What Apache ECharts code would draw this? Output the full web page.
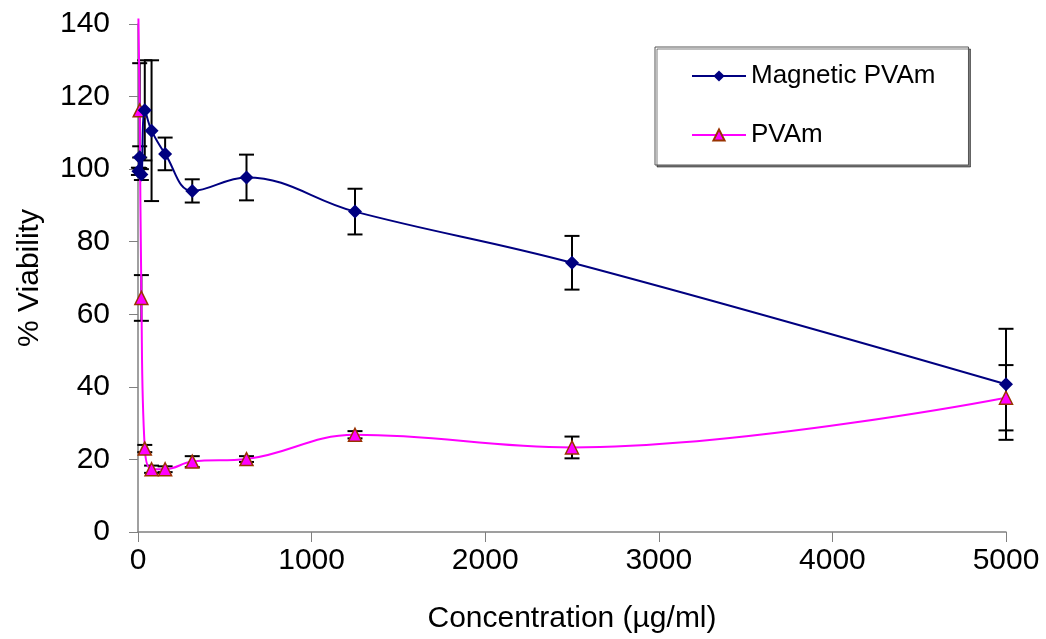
<!DOCTYPE html>
<html>
<head>
<meta charset="utf-8">
<script src="https://cdn.jsdelivr.net/npm/echarts@6/dist/echarts.min.js"></script>
<style>
  html, body { margin: 0; padding: 0; background: #fff; }
  #chartdiv { width: 1046px; height: 639px; }
</style>
</head>
<body>
<div id="chartdiv"></div>
<script>
// concentrations (µg/ml)
const concentrations = [2.44, 9.77, 19.53, 39.06, 78.13, 156.25, 312.5, 625, 1250, 2500, 5000];

const magneticViability = [99.4, 103.3, 98.5, 116.2, 110.6, 104.2, 94.0, 97.7, 88.3, 74.2, 40.7];
const magneticError = [1.0, 3.0, 1.5, 13.8, 19.4, 4.5, 3.2, 6.3, 6.3, 7.4, 15.3];

const pvamViability = [141.5, 116.2, 64.5, 23.0, 17.3, 17.3, 19.4, 20.1, 26.8, 23.3, 37.0];
const pvamError = [0, 13.0, 6.3, 1.0, 1.0, 0.8, 1.5, 0.8, 1.0, 3.0, 9.0];

const yTicks = [0, 20, 40, 60, 80, 100, 120, 140];
const xTicks = [0, 1000, 2000, 3000, 4000, 5000];

const Y_MAX = 140;

function pointData(values) {
  return concentrations.map((c, i) => {
    // point above the axis range: the line goes there but no marker is drawn
    if (values[i] > Y_MAX) return { value: [c, values[i]], symbol: "none" };
    return [c, values[i]];
  });
}

function errorData(values, errors) {
  return concentrations
    .map((c, i) => [c, values[i] - errors[i], values[i] + errors[i]])
    .filter((d, i) => errors[i] > 0);
}

function renderErrorBar(params, api) {
  const x = api.value(0);
  const lo = api.coord([x, api.value(1)]);
  const hi = api.coord([x, api.value(2)]);
  const half = 7.5;
  const style = { stroke: "#000", lineWidth: 2 };
  return {
    type: "group",
    children: [
      { type: "line", shape: { x1: hi[0], y1: hi[1], x2: lo[0], y2: lo[1] }, style },
      { type: "line", shape: { x1: hi[0] - half, y1: hi[1], x2: hi[0] + half, y2: hi[1] }, style },
      { type: "line", shape: { x1: lo[0] - half, y1: lo[1], x2: lo[0] + half, y2: lo[1] }, style }
    ]
  };
}

const chart = echarts.init(document.getElementById("chartdiv"));

const font = "Liberation Sans, Arial, sans-serif";

const option = {
  animation: false,
  backgroundColor: "#fff",
  textStyle: { fontFamily: font },
  grid: { left: 138, right: 40, top: 24, bottom: 106, containLabel: false },
  legend: {
    orient: "vertical",
    left: 655,
    top: 47,
    padding: [14, 33, 15, 36],
    itemGap: 29,
    itemWidth: 54,
    itemHeight: 14,
    backgroundColor: "#fff",
    borderColor: "#555",
    borderWidth: 1,
    shadowColor: "rgba(0,0,0,0.5)",
    shadowOffsetX: 2,
    shadowOffsetY: 2,
    shadowBlur: 0,
    textStyle: { fontSize: 26, lineHeight: 30, color: "#000", fontFamily: font },
    data: ["Magnetic PVAm", "PVAm"]
  },
  xAxis: {
    type: "value",
    min: xTicks[0],
    max: xTicks[xTicks.length - 1],
    interval: 1000,
    name: "Concentration (µg/ml)",
    nameLocation: "middle",
    nameGap: 72,
    nameTextStyle: { fontSize: 30, color: "#000", fontFamily: font },
    axisLine: { show: true, lineStyle: { color: "#808080", width: 1.5 } },
    axisTick: { show: true, length: 10, lineStyle: { color: "#808080" } },
    axisLabel: {
      fontSize: 30, color: "#000", margin: 14, fontFamily: font,
      formatter: v => String(v)
    },
    splitLine: { show: false }
  },
  yAxis: {
    type: "value",
    min: yTicks[0],
    max: yTicks[yTicks.length - 1],
    interval: 20,
    name: "% Viability",
    nameLocation: "middle",
    nameGap: 93,
    nameRotate: 90,
    nameTextStyle: { fontSize: 30, color: "#000", fontFamily: font },
    axisLine: { show: true, lineStyle: { color: "#808080", width: 1.5 } },
    axisTick: { show: true, length: 9, lineStyle: { color: "#808080" } },
    axisLabel: { fontSize: 30, color: "#000", margin: 28, fontFamily: font },
    splitLine: { show: false }
  },
  series: [
    {
      name: "Magnetic errors",
      type: "custom",
      renderItem: renderErrorBar,
      data: errorData(magneticViability, magneticError),
      encode: { x: 0, y: [1, 2] },
      z: 1,
      silent: true
    },
    {
      name: "PVAm errors",
      type: "custom",
      renderItem: renderErrorBar,
      data: errorData(pvamViability, pvamError),
      encode: { x: 0, y: [1, 2] },
      z: 1,
      silent: true
    },
    {
      name: "Magnetic PVAm",
      type: "line",
      data: pointData(magneticViability),
      smooth: 0.4,
      symbol: "diamond",
      symbolSize: 14,
      showAllSymbol: true,
      lineStyle: { color: "#000080", width: 2 },
      itemStyle: { color: "#000080", borderColor: "#000080", borderWidth: 0 },
      z: 3
    },
    {
      name: "PVAm",
      type: "line",
      data: pointData(pvamViability),
      smooth: 0.4,
      clip: false,
      symbol: "triangle",
      symbolSize: 13,
      showAllSymbol: true,
      lineStyle: { color: "#FF00FF", width: 2 },
      itemStyle: { color: "#FF00FF", borderColor: "#993300", borderWidth: 1.5 },
      z: 2
    }
  ]
};

chart.setOption(option);
</script>
</body>
</html>
